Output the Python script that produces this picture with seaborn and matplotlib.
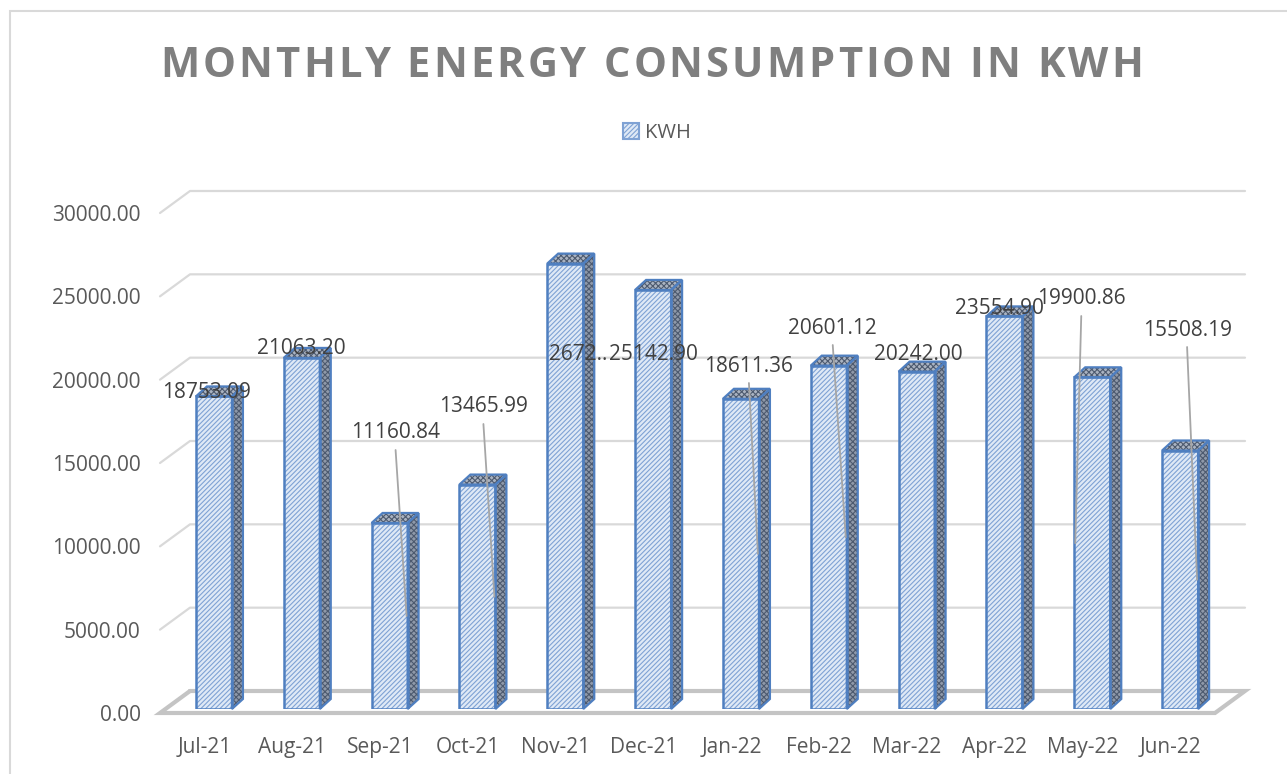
import matplotlib
matplotlib.use("Agg")
import matplotlib.pyplot as plt
import matplotlib.patches as mpatches
import matplotlib.transforms as mtransforms
import seaborn as sns
import pandas as pd

# data
months = ["Jul-21", "Aug-21", "Sep-21", "Oct-21", "Nov-21", "Dec-21",
          "Jan-22", "Feb-22", "Mar-22", "Apr-22", "May-22", "Jun-22"]
kwh = [18753.09, 21063.20, 11160.84, 13465.99, 26725.00, 25142.90,
       18611.36, 20601.12, 20242.00, 23554.90, 19900.86, 15508.19]
labels = [f"{v:.2f}" for v in kwh]
labels[4] = "2672.."   # Excel truncated this one
y_ticks = [0, 5000, 10000, 15000, 20000, 25000, 30000]

# label layout (pixels): x shift from bar centre, label centre y, leader side
label_dx = [-7, 0, 6, 6, 13, 0, 8, 4, 2, -5, -11, 7]
label_ypx = [393, 348, 433, 407, 355, 355, 366, 328, 355, 308, 299, 330]
leader = [0, 0, 1, 1, 0, 0, 1, 1, 0, 0, -1, 1]

W, H = 1287, 774
BASE = 709           # pixel row of value 0 on the bar plane
PX = 12 / 1054       # data x per pixel
PY = 30000 / 500     # data y per pixel

FRONT = "#dfe9f6"
HATCH = "#7fa2d4"
EDGE = "#4f7fc0"
SIDE = "#8f99a9"
SIDE_HATCH = "#4d5a6f"
TOP = "#aab3c1"
GRID = "#d9d9d9"

sns.set_style("white")
plt.rcParams['font.family'] = ['Open Sans', 'DejaVu Sans']
plt.rcParams['hatch.linewidth'] = 0.8

fig = plt.figure(figsize=(W / 100, H / 100), dpi=100)
ax = fig.add_axes([170 / W, (H - BASE) / H, 1054 / W, 500 / H])

df = pd.DataFrame({"Month": months, "KWH": kwh})
sns.barplot(data=df, x="Month", y="KWH", ax=ax, width=0.41, color=FRONT,
            saturation=1, edgecolor=HATCH, linewidth=0, hatch="/" * 7,
            label="KWH", zorder=3)

ax.set_xlim(-0.5, 11.5)
ax.set_ylim(0, 30000)

# walls / floor of the 3-d box
x_fl, x_fr = -0.5 - 10 * PX, 11.5 - 9 * PX
x_bl, x_br = -0.5 + 20 * PX, 11.5 + 21 * PX
yf, yb = -4 * PY, 18 * PY
for v in y_ticks[1:]:
    ax.plot([x_fl, x_bl, x_br], [v + yf, v + yb, v + yb], color=GRID,
            lw=1.6, clip_on=False, zorder=1)
ax.plot([x_bl, x_fl, x_fr, x_br, x_bl], [yb, yf, yf, yb, yb],
        color="#c4c4c4", lw=3, clip_on=False, zorder=1, solid_joinstyle="miter")

# fake depth on each bar
DX, DY = 11 * PX, 10 * PY
bars = list(ax.patches)
for p in bars:
    x0, w, h = p.get_x(), p.get_width(), p.get_height()
    side = [(x0 + w, 0), (x0 + w + DX, DY), (x0 + w + DX, h + DY), (x0 + w, h)]
    top = [(x0, h), (x0 + DX, h + DY), (x0 + w + DX, h + DY), (x0 + w, h)]
    for poly, fc in [(side, SIDE), (top, TOP)]:
        ax.add_patch(mpatches.Polygon(poly, closed=True, facecolor=fc,
                                      edgecolor=SIDE_HATCH, lw=0, hatch="x" * 6,
                                      zorder=3, clip_on=False))
        ax.add_patch(mpatches.Polygon(poly, closed=True, fill=False,
                                      edgecolor=EDGE, lw=1.6, zorder=4,
                                      clip_on=False))
    ax.add_patch(mpatches.Rectangle((x0, 0), w, h, fill=False, edgecolor=EDGE,
                                    lw=1.8, zorder=4))

# data labels and leader lines
for i, (v, txt) in enumerate(zip(kwh, labels)):
    lx = i + label_dx[i] * PX
    ly = (BASE - label_ypx[i]) * PY
    ax.text(lx, ly, txt, ha="center", va="center", fontsize=15, color="#404040",
            zorder=6, clip_on=False)
    if leader[i]:
        ax.plot([lx, i + leader[i] * 17 * PX], [ly - 17 * PY, v / 2],
                color="#a6a6a6", lw=1.3, zorder=5, clip_on=False)

# axes text
ax.set_yticks(y_ticks)
ax.set_yticklabels([f"{t:.2f}" for t in y_ticks])
ax.set_xlabel("")
ax.set_ylabel("")
ax.tick_params(axis="y", length=0, pad=21, labelsize=15, labelcolor="#595959")
ax.tick_params(axis="x", length=0, pad=20, labelsize=15, labelcolor="#595959")
for lbl in ax.get_yticklabels():
    lbl.set_transform(lbl.get_transform() +
                      mtransforms.ScaledTranslation(0, -4 / 100, fig.dpi_scale_trans))
for lbl in ax.get_xticklabels():
    lbl.set_transform(lbl.get_transform() +
                      mtransforms.ScaledTranslation(-9.5 / 100, 0, fig.dpi_scale_trans))
for s in ax.spines.values():
    s.set_visible(False)
ax.patch.set_alpha(0)

leg = ax.legend(loc="center", bbox_to_anchor=(657 / W, 1 - 133 / H),
                bbox_transform=fig.transFigure, frameon=False, fontsize=14.5,
                handlelength=0.8, handleheight=0.8, handletextpad=0.3)
for t in leg.get_texts():
    t.set_color("#595959")
for hnd in leg.legend_handles:
    hnd.set_linewidth(1.5)

# title, letter spaced by hand
title = "MONTHLY ENERGY CONSUMPTION IN KWH"
tp = dict(fontsize=30, fontweight="bold", color="#7f7f7f", family="Open Sans")
renderer = fig.canvas.get_renderer()


def text_width(s):
    t = fig.text(0, 0, s, **tp)
    w = t.get_window_extent(renderer).width
    t.remove()
    return w


ref_w = text_width("H")
offsets = [text_width(title[:k] + "H") - ref_w if k else 0 for k in range(len(title))]
natural = text_width(title)
spacing = (983 - natural) / (len(title) - 1)
for k, ch in enumerate(title):
    if ch == " ":
        continue
    fig.text((160 + offsets[k] + k * spacing) / W, 1 - 77 / H, ch,
             ha="left", va="baseline", **tp)

# chart frame
fig.patches.append(mpatches.Rectangle((10 / W, -0.1), 2, 1 - 11 / H + 0.1,
                                      transform=fig.transFigure, fill=False,
                                      edgecolor=GRID, lw=1.5))

fig.savefig("out.png", dpi=100)
